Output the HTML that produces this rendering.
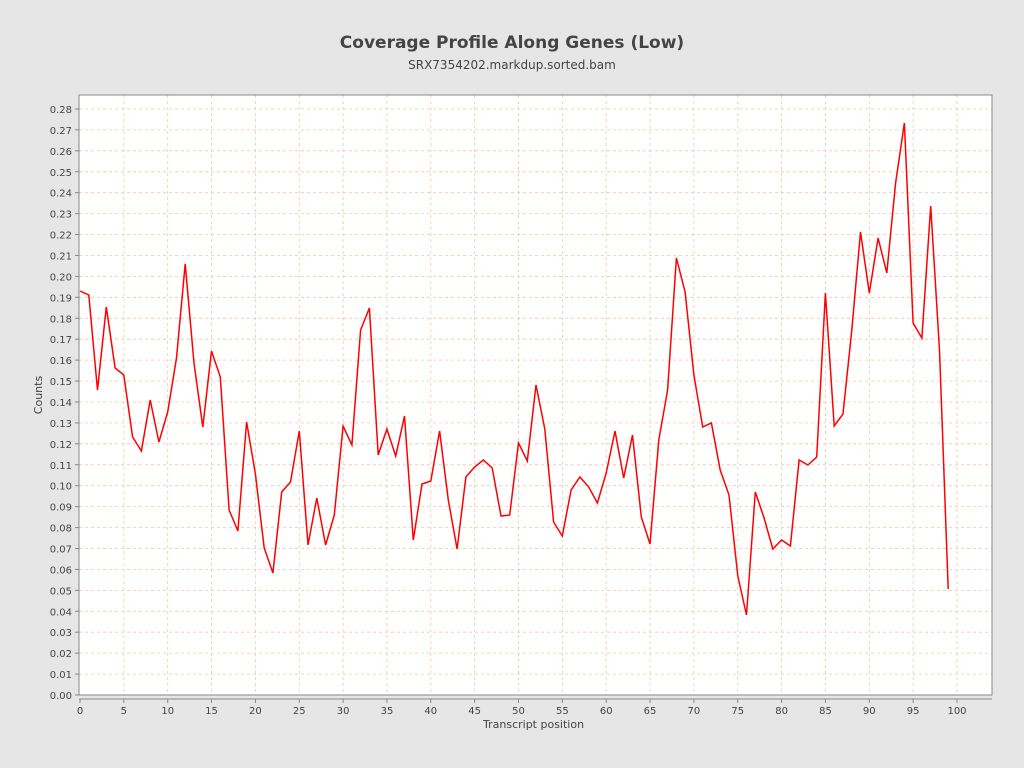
<!DOCTYPE html>
<html><head><meta charset="utf-8"><style>
html,body{margin:0;padding:0;background:#e6e6e6;}
svg{display:block;font-family:"DejaVu Sans","Liberation Sans",sans-serif;}
</style></head><body>
<svg id="s" width="1024" height="768" xmlns="http://www.w3.org/2000/svg">
<rect width="1024" height="768" fill="#e6e6e6"/>
<text x="512" y="48" text-anchor="middle" font-size="17" font-weight="bold" fill="#444">Coverage Profile Along Genes (Low)</text>
<text x="512" y="69" text-anchor="middle" font-size="12" fill="#444">SRX7354202.markdup.sorted.bam</text>
<rect x="79" y="95" width="913" height="600" fill="#fff"/>
<g id="g"></g>
<rect x="79" y="95" width="913" height="600" fill="none" stroke="#888" stroke-width="1"/>
<text x="483" y="728" font-size="11" fill="#444">Transcript position</text>
<text transform="translate(42,395) rotate(-90)" text-anchor="middle" font-size="11" fill="#444">Counts</text>
</svg>
<script>
var ys=[291,295,390,307,368,375,437,451,400,442,412,358,264,363,427,351,377,510,531,422,474,548,573,492,482,431,545,498,545,515,426,445,330,308,455,429,456,416,540,484,481,431,500,549,477,467,460,468,516,515,443,461,385,429,522,536,490,477,487,503,473,431,478,435,517,544,440,390,258,292,375,427,423,470,495,576,615,492,518,549,540,546,460,465,457,293,426,414,330,232,293,238,273,183,123,323,338,206,350,589];
var g=document.getElementById('g'),h='';
function X(i){return 80+8.77*i;}
function Y(v){return 695-v*2093;}
for(var k=1;k<=28;k++){var y=Y(k/100).toFixed(1);h+='<line x1="79" x2="992" y1="'+y+'" y2="'+y+'" stroke="#f0c8a8" stroke-dasharray="3,3" stroke-width="0.8"/>';}
for(var k=0;k<=28;k++){var y=Y(k/100);h+='<line x1="75" x2="79" y1="'+y+'" y2="'+y+'" stroke="#888"/><text x="72" y="'+(y+4)+'" text-anchor="end" font-size="10" fill="#444">'+(k/100).toFixed(2)+'</text>';}
for(var i=5;i<=100;i+=5){var x=X(i);h+='<line y1="95" y2="695" x1="'+x+'" x2="'+x+'" stroke="#f0c8a8" stroke-dasharray="3,3" stroke-width="0.8"/>';}
h+='<line x1="79" x2="992" y1="699" y2="699" stroke="#888"/>';
for(var i=0;i<=100;i+=5){var x=X(i);h+='<line y1="699" y2="703" x1="'+x+'" x2="'+x+'" stroke="#888"/><text x="'+x+'" y="714" text-anchor="middle" font-size="10" fill="#444">'+i+'</text>';}
var p=ys.map(function(y,i){return X(i).toFixed(1)+','+y;}).join(' ');
h+='<polyline points="'+p+'" fill="none" stroke="#f00" stroke-width="1.5"/>';
g.innerHTML=h;
</script>
</body></html>
